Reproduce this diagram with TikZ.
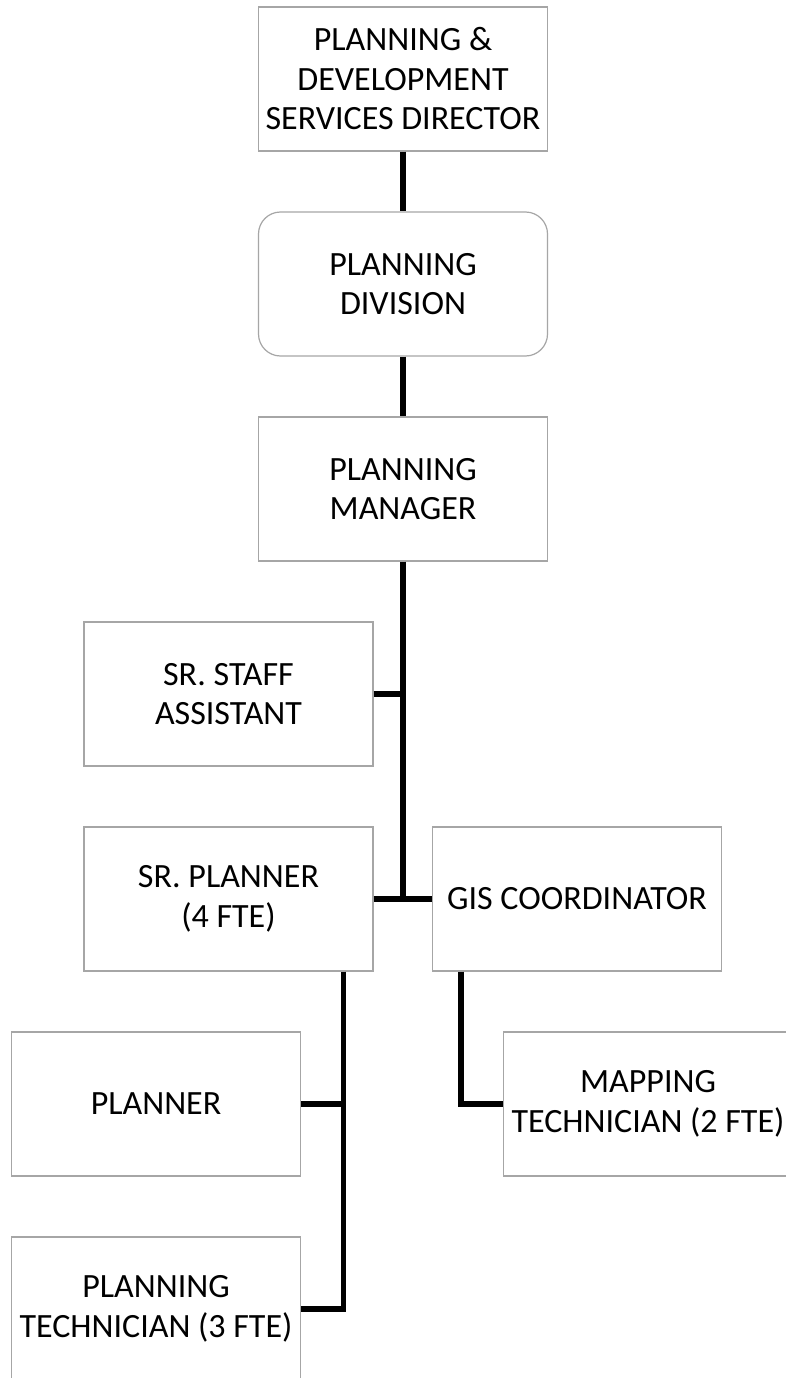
\documentclass[tikz,border=0pt]{standalone}
\usepackage{fontspec}
\setmainfont{Carlito}
\begin{document}
\begin{tikzpicture}[x=1pt,y=-1pt,
  box/.style={draw=boxgray, line width=1.2pt, fill=white, minimum width=289pt, minimum height=144pt,
    inner sep=0pt, align=center, font=\fontsize{34}{39.5}\selectfont},
  roundbox/.style={box, rounded corners=22pt},
  link/.style={line width=5.5pt, draw=black}]
\definecolor{boxgray}{HTML}{A6A6A6}
\useasboundingbox (0,0) rectangle (786,1378);
\clip (0,0) rectangle (786,1378);
\fill[white] (0,0) rectangle (786,1378);
\node[box] (dir) at (403,79) {PLANNING \&\\DEVELOPMENT\\SERVICES DIRECTOR};
\node[roundbox] (div) at (403,284) {PLANNING\\DIVISION};
\node[box] (mgr) at (403,489) {PLANNING\\MANAGER};
\node[box] (staff) at (228.5,694) {SR. STAFF\\ASSISTANT};
\node[box] (sp) at (228.5,899) {SR. PLANNER\\(4 FTE)};
\node[box] (gis) at (577,899) {GIS COORDINATOR};
\node[box] (pl) at (156,1104) {PLANNER};
\node[box] (map) at (648,1104) {MAPPING\\TECHNICIAN (2 FTE)};
\node[box] (pt) at (156,1309) {PLANNING\\TECHNICIAN (3 FTE)};
\coordinate (spb) at ([xshift=-30pt]sp.south east);
\coordinate (gb) at ([xshift=29pt]gis.south west);
\draw[link] (dir.south) -- (div.north);
\draw[link] (div.south) -- (mgr.north);
\draw[link] (mgr.south) -- (mgr.south |- sp.east);
\draw[link] (staff.east) -- (staff.east -| mgr.south);
\draw[link] (sp.east) -- (gis.west);
\draw[link] (spb) |- (pt.east);
\draw[link] (pl.east) -- (pl.east -| spb);
\draw[link] (gb) |- (map.west);
\end{tikzpicture}
\end{document}
